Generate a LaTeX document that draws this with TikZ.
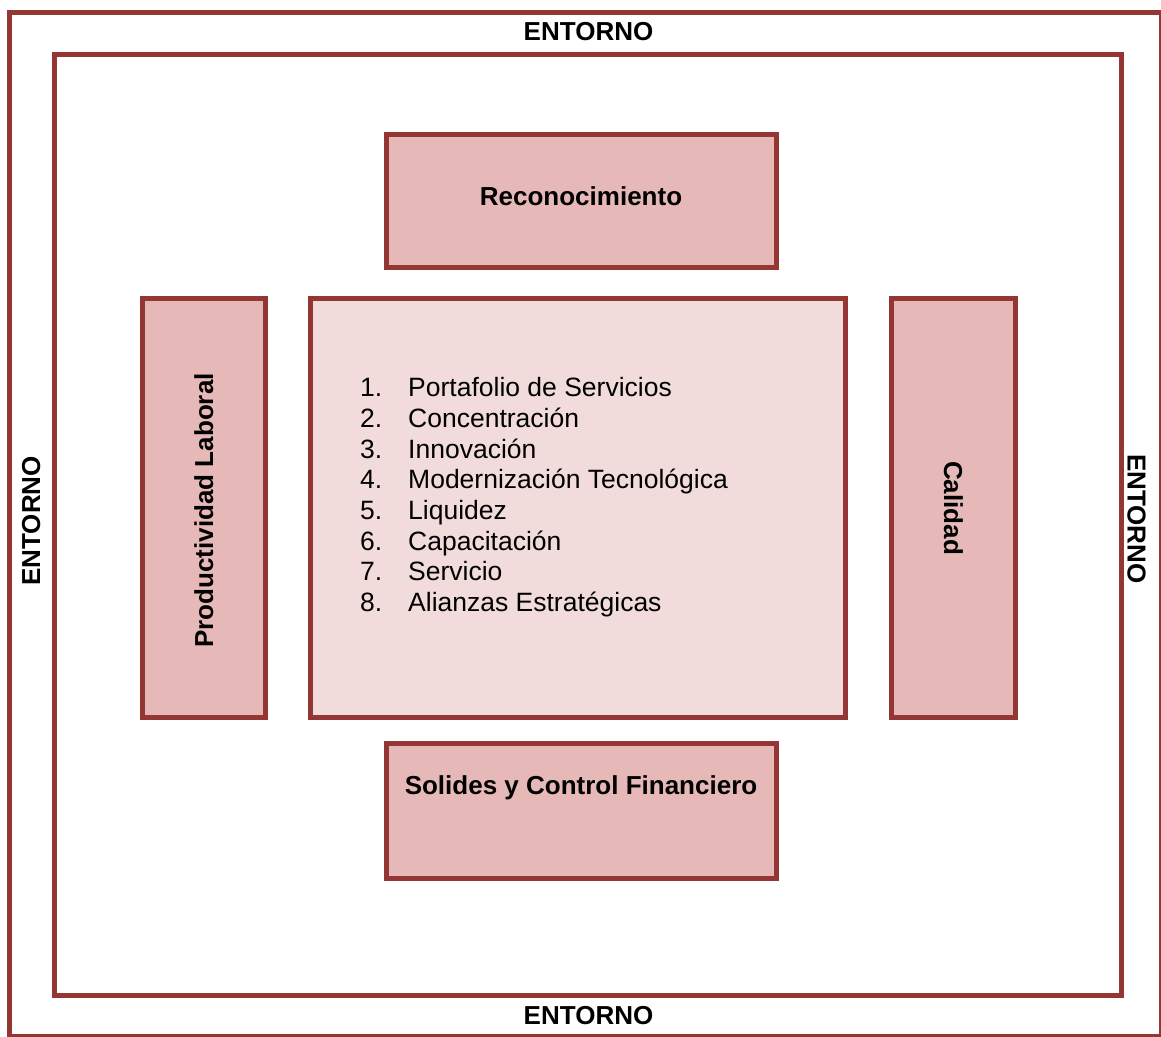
\documentclass[tikz,border=0pt]{standalone}
\usepackage{fontspec}
\setmainfont{Liberation Sans}
\definecolor{brd}{HTML}{943634}
\definecolor{boxfill}{HTML}{E6B9B8}
\definecolor{corefill}{HTML}{F2DCDB}
\tikzset{
  frame/.style={draw=brd, line width=5pt, inner sep=0pt, outer sep=0pt, fill=none},
  pinkbox/.style={draw=brd, line width=5pt, fill=boxfill, inner sep=0pt, outer sep=0pt},
  corebox/.style={draw=brd, line width=5pt, fill=corefill, inner sep=0pt, outer sep=0pt},
  head/.style={inner sep=0pt, anchor=base, font=\bfseries\fontsize{26}{30}\selectfont},
  item/.style={inner sep=0pt, anchor=base west, font=\fontsize{26.5}{30.7}\selectfont}
}
\begin{document}
\begin{tikzpicture}[x=1pt,y=-1pt]
\useasboundingbox (0,0) rectangle (1161,1036);
% frames
\node[frame, minimum width=1152pt, minimum height=1024.5pt] (outer) at (585.75,524.25) {};
\node[frame, minimum width=1067pt, minimum height=941.5pt] (inner) at (588,524.75) {};
% boxes
\node[pinkbox, minimum width=390pt, minimum height=133pt] (rec) at (581,200.5) {};
\node[pinkbox, minimum width=390pt, minimum height=135pt] (sol) at (581,810.5) {};
\node[pinkbox, minimum width=123pt, minimum height=419pt] (prod) at (203.5,507.5) {};
\node[pinkbox, minimum width=124pt, minimum height=419pt] (cal) at (953,507.5) {};
\node[corebox, minimum width=535pt, minimum height=419pt] (core) at (577.5,507.5) {};
% entorno labels
\node[head] (etop) at (588.5,40.2) {ENTORNO};
\node[head] (ebot) at (588.5,1024) {ENTORNO};
\node[head, rotate=90] (eleft) at (40.2,520.8) {ENTORNO};
\node[head, rotate=-90] (eright) at (1127.5,518.8) {ENTORNO};
% box labels
\node[head] (trec) at (581,205) {Reconocimiento};
\node[head] (tsol) at (581,794.3) {Solides y Control Financiero};
\node[head, rotate=90] (tprod) at (213,510.5) {Productividad Laboral};
\node[head, rotate=-90] (tcal) at (944,508) {Calidad};
% list
\foreach \n/\t [count=\i from 0] in {1/Portafolio de Servicios, 2/Concentración, 3/Innovación, 4/Modernización Tecnológica, 5/Liquidez, 6/Capacitación, 7/Servicio, 8/Alianzas Estratégicas}{
  \node[item] (num\n) at (360,396.7+30.7*\i) {\n.};
  \node[item] (txt\n) at (408,396.7+30.7*\i) {\t};
}
\end{tikzpicture}
\end{document}
